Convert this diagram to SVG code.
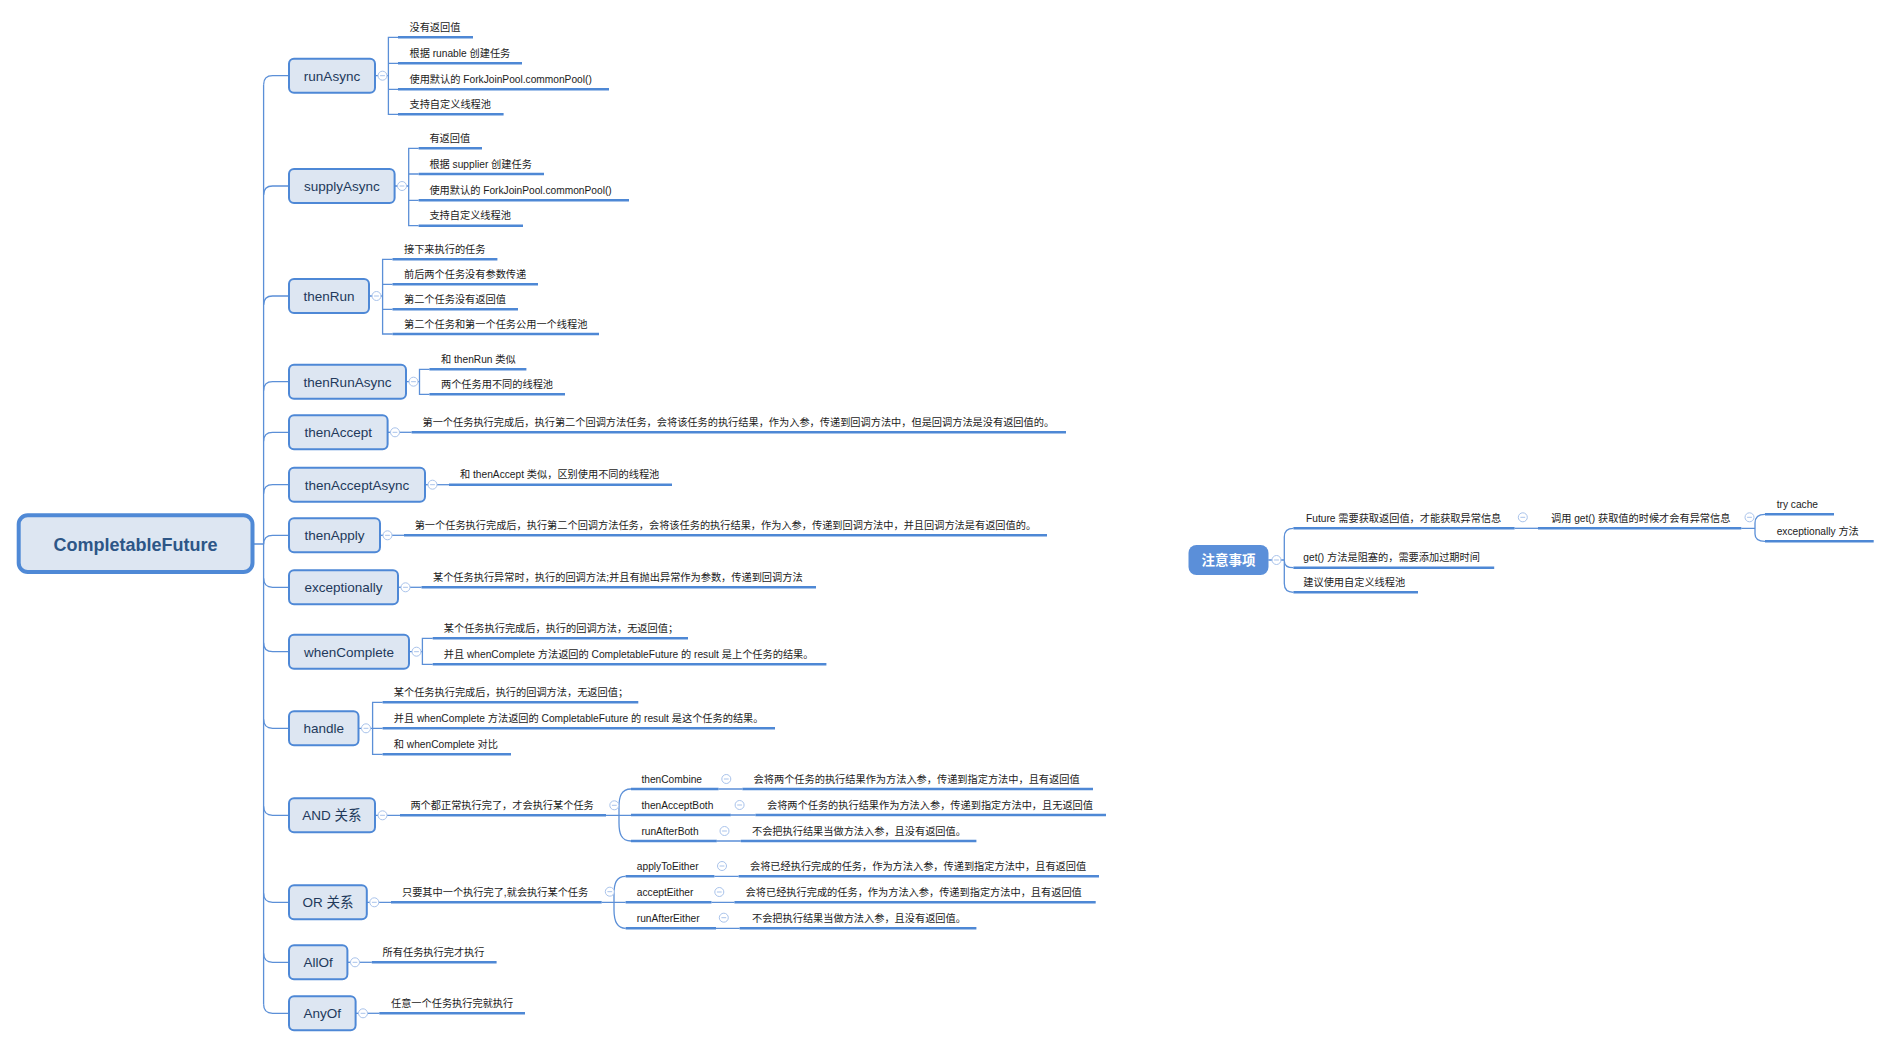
<svg xmlns="http://www.w3.org/2000/svg" width="1891" height="1047" viewBox="0 0 1891 1047">
<defs>
<style>
.ln{fill:none;stroke:#5b8fd7;stroke-width:1.3}
.ul{stroke:#4e88d5;stroke-width:2.6;fill:none}
.bx{fill:#dde6f2;stroke:#4e88d6;stroke-width:2}
.nt{font-family:"Liberation Sans","Noto Sans CJK SC",sans-serif;font-size:13.5px;fill:#22395b;text-anchor:middle}
.lt{font-family:"Liberation Sans","Noto Sans CJK SC",sans-serif;font-size:10.2px;fill:#1b1b1b}
</style>
<g id="col"><circle r="4.5" fill="#ffffff" stroke="#a9c3eb" stroke-width="1"/><line x1="-2.4" x2="2.4" y1="0" y2="0" stroke="#a9c3eb" stroke-width="1"/></g>
</defs>
<rect width="1891" height="1047" fill="#ffffff"/>

<g id="connectors" class="ln">
<path d="M254 544 H263.6 M263.6 84.7 V1004.3"/>
<path d="M263.6 84.7 Q263.6 75.7 272.6 75.7 H289"/>
<path d="M263.6 195 Q263.6 186 272.6 186 H289"/>
<path d="M263.6 305 Q263.6 296 272.6 296 H289"/>
<path d="M263.6 390.7 Q263.6 381.7 272.6 381.7 H289"/>
<path d="M263.6 441.3 Q263.6 432.3 272.6 432.3 H289"/>
<path d="M263.6 493.7 Q263.6 484.7 272.6 484.7 H289"/>
<path d="M263.6 544.3 Q263.6 535.3 272.6 535.3 H289"/>
<path d="M263.6 578.3 Q263.6 587.3 272.6 587.3 H289"/>
<path d="M263.6 642.7 Q263.6 651.7 272.6 651.7 H289"/>
<path d="M263.6 719.3 Q263.6 728.3 272.6 728.3 H289"/>
<path d="M263.6 806.3 Q263.6 815.3 272.6 815.3 H289"/>
<path d="M263.6 893.3 Q263.6 902.3 272.6 902.3 H289"/>
<path d="M263.6 953.3 Q263.6 962.3 272.6 962.3 H289"/>
<path d="M263.6 1004.3 Q263.6 1013.3 272.6 1013.3 H289"/>

<path d="M375 75.7 H388.4 M398 37.3 H388.4 V114.3 H398 M388.4 63.3 H398 M388.4 89.3 H398"/>
<path d="M394.6 186 H408.7 M418.6 148.3 H408.7 V225.7 H418.6 M408.7 174 H418.6 M408.7 200.3 H418.6"/>
<path d="M369 296 H382.6 M392.5 259.3 H382.6 V334 H392.5 M382.6 284.3 H392.5 M382.6 309.3 H392.5"/>
<path d="M406 381.7 H419.5 M429.4 369.3 H419.5 V394.3 H429.4"/>
<path d="M387.6 432.3 H411.6"/>
<path d="M425 484.7 H449"/>
<path d="M380 535.3 H404"/>
<path d="M398 587.3 H421.5"/>
<path d="M409 651.7 H422.4 M432.7 638.3 H422.4 V664.3 H432.7"/>
<path d="M358.5 728.3 H372.6 M382.6 702.3 H372.6 V754.3 H382.6 M372.6 728.3 H382.6"/>
<path d="M375 815.3 H400 M606 815.3 H631 M631 789 C621 789 619 797 619 807 V823 C619 833 621 841 631 841"/>
<path d="M718.6 789 H742.4 M730.8 815 H755.4 M716.8 841 H740.7"/>
<path d="M366.8 902.3 H391 M601.7 902.3 H625.6 M625.6 876.3 C616 876.3 614 884 614 894 V910 C614 920 616 928.3 625.6 928.3"/>
<path d="M714.4 876.3 H738.6 M711.5 902.3 H734.4 M716 928.3 H739.6"/>
<path d="M347.4 962.3 H371.8"/>
<path d="M355.6 1013.3 H379.3"/>
<path d="M1268.3 560 H1284.3 M1293.4 528.3 C1287 528.3 1284.3 531 1284.3 537 V583.6 C1284.3 589.6 1287 592.3 1293.4 592.3 M1284.3 561 C1284.3 565 1287 567.7 1293.4 567.7"/>
<path d="M1514.6 528.3 H1538"/>
<path d="M1741.3 528.3 H1755 M1765 514.3 C1758 514.3 1755 517 1755 523 V534 C1755 539 1758 541.3 1765 541.3"/>
</g>

<g id="root">
<rect x="18.7" y="515.3" width="233.8" height="56.7" rx="9" fill="#dde6f2" stroke="#4f89d6" stroke-width="4"/>
<text x="135.5" y="550.5" text-anchor="middle" font-family="'Liberation Sans','Noto Sans CJK SC',sans-serif" font-size="18" font-weight="bold" fill="#2d5687">CompletableFuture</text>
</g>

<g id="n-runAsync">
<rect class="bx" x="289" y="58.7" width="86" height="34" rx="5"/>
<text class="nt" x="332" y="80.7">runAsync</text>
<use href="#col" x="382.5" y="75.7"/>
<text class="lt" x="409.5" y="30.8">没有返回值</text><line class="ul" x1="398" y1="37.3" x2="473" y2="37.3"/>
<text class="lt" x="409.5" y="56.8">根据 runable 创建任务</text><line class="ul" x1="398" y1="63.3" x2="522" y2="63.3"/>
<text class="lt" x="409.5" y="82.8">使用默认的 ForkJoinPool.commonPool()</text><line class="ul" x1="398" y1="89.3" x2="609" y2="89.3"/>
<text class="lt" x="409.5" y="107.8">支持自定义线程池</text><line class="ul" x1="398" y1="114.3" x2="503.6" y2="114.3"/>
</g>

<g id="n-supplyAsync">
<rect class="bx" x="289" y="169" width="105.6" height="34" rx="5"/>
<text class="nt" x="341.8" y="191">supplyAsync</text>
<use href="#col" x="402" y="186"/>
<text class="lt" x="429.4" y="141.8">有返回值</text><line class="ul" x1="418.6" y1="148.3" x2="482" y2="148.3"/>
<text class="lt" x="429.4" y="167.5">根据 supplier 创建任务</text><line class="ul" x1="418.6" y1="174" x2="544" y2="174"/>
<text class="lt" x="429.4" y="193.8">使用默认的 ForkJoinPool.commonPool()</text><line class="ul" x1="418.6" y1="200.3" x2="629" y2="200.3"/>
<text class="lt" x="429.4" y="219.2">支持自定义线程池</text><line class="ul" x1="418.6" y1="225.7" x2="523" y2="225.7"/>
</g>

<g id="n-thenRun">
<rect class="bx" x="289" y="279" width="80" height="34" rx="5"/>
<text class="nt" x="329" y="301">thenRun</text>
<use href="#col" x="376.5" y="296"/>
<text class="lt" x="404" y="252.8">接下来执行的任务</text><line class="ul" x1="392.5" y1="259.3" x2="497.4" y2="259.3"/>
<text class="lt" x="404" y="277.8">前后两个任务没有参数传递</text><line class="ul" x1="392.5" y1="284.3" x2="538" y2="284.3"/>
<text class="lt" x="404" y="302.8">第二个任务没有返回值</text><line class="ul" x1="392.5" y1="309.3" x2="518" y2="309.3"/>
<text class="lt" x="404" y="327.5">第二个任务和第一个任务公用一个线程池</text><line class="ul" x1="392.5" y1="334" x2="599" y2="334"/>
</g>

<g id="n-thenRunAsync">
<rect class="bx" x="289" y="364.7" width="117" height="34" rx="5"/>
<text class="nt" x="347.5" y="386.7">thenRunAsync</text>
<use href="#col" x="413.5" y="381.7"/>
<text class="lt" x="441" y="362.8">和 thenRun 类似</text><line class="ul" x1="429.4" y1="369.3" x2="526.4" y2="369.3"/>
<text class="lt" x="441" y="387.8">两个任务用不同的线程池</text><line class="ul" x1="429.4" y1="394.3" x2="565" y2="394.3"/>
</g>

<g id="n-thenAccept">
<rect class="bx" x="289" y="415.3" width="98.6" height="34" rx="5"/>
<text class="nt" x="338.3" y="437.3">thenAccept</text>
<use href="#col" x="395" y="432.3"/>
<text class="lt" x="422.5" y="425.8">第一个任务执行完成后，执行第二个回调方法任务，会将该任务的执行结果，作为入参，传递到回调方法中，但是回调方法是没有返回值的。</text><line class="ul" x1="411.6" y1="432.3" x2="1066" y2="432.3"/>
</g>

<g id="n-thenAcceptAsync">
<rect class="bx" x="289" y="467.7" width="136" height="34" rx="5"/>
<text class="nt" x="357" y="489.7">thenAcceptAsync</text>
<use href="#col" x="432.5" y="484.7"/>
<text class="lt" x="460" y="478.2">和 thenAccept 类似，区别使用不同的线程池</text><line class="ul" x1="449" y1="484.7" x2="672" y2="484.7"/>
</g>

<g id="n-thenApply">
<rect class="bx" x="289" y="518.3" width="91" height="34" rx="5"/>
<text class="nt" x="334.5" y="540.3">thenApply</text>
<use href="#col" x="387.5" y="535.3"/>
<text class="lt" x="414.7" y="528.8">第一个任务执行完成后，执行第二个回调方法任务，会将该任务的执行结果，作为入参，传递到回调方法中，并且回调方法是有返回值的。</text><line class="ul" x1="404" y1="535.3" x2="1047" y2="535.3"/>
</g>

<g id="n-exceptionally">
<rect class="bx" x="289" y="570.3" width="109" height="34" rx="5"/>
<text class="nt" x="343.5" y="592.3">exceptionally</text>
<use href="#col" x="405.5" y="587.3"/>
<text class="lt" x="433" y="580.8">某个任务执行异常时，执行的回调方法;并且有抛出异常作为参数，传递到回调方法</text><line class="ul" x1="421.5" y1="587.3" x2="816" y2="587.3"/>
</g>

<g id="n-whenComplete">
<rect class="bx" x="289" y="634.7" width="120" height="34" rx="5"/>
<text class="nt" x="349" y="656.7">whenComplete</text>
<use href="#col" x="416.5" y="651.7"/>
<text class="lt" x="443.8" y="631.8">某个任务执行完成后，执行的回调方法，无返回值；</text><line class="ul" x1="432.7" y1="638.3" x2="688" y2="638.3"/>
<text class="lt" x="443.8" y="657.8">并且 whenComplete 方法返回的 CompletableFuture 的 result 是上个任务的结果。</text><line class="ul" x1="432.7" y1="664.3" x2="826.4" y2="664.3"/>
</g>

<g id="n-handle">
<rect class="bx" x="289" y="711.3" width="69.5" height="34" rx="5"/>
<text class="nt" x="323.8" y="733.3">handle</text>
<use href="#col" x="366" y="728.3"/>
<text class="lt" x="393.8" y="695.8">某个任务执行完成后，执行的回调方法，无返回值；</text><line class="ul" x1="382.6" y1="702.3" x2="638.3" y2="702.3"/>
<text class="lt" x="393.8" y="721.8">并且 whenComplete 方法返回的 CompletableFuture 的 result 是这个任务的结果。</text><line class="ul" x1="382.6" y1="728.3" x2="775" y2="728.3"/>
<text class="lt" x="393.8" y="747.8">和 whenComplete 对比</text><line class="ul" x1="382.6" y1="754.3" x2="511" y2="754.3"/>
</g>

<g id="n-and">
<rect class="bx" x="289" y="798.3" width="86" height="34" rx="5"/>
<text class="nt" x="332" y="820.3">AND 关系</text>
<use href="#col" x="382.5" y="815.3"/>
<text class="lt" x="410.4" y="808.8">两个都正常执行完了，才会执行某个任务</text><line class="ul" x1="400" y1="815.3" x2="606" y2="815.3"/>
<use href="#col" x="614.3" y="805.3"/>
<text class="lt" x="641.4" y="782.5">thenCombine</text><line class="ul" x1="631" y1="789" x2="718.6" y2="789"/>
<use href="#col" x="726.3" y="779"/>
<text class="lt" x="753.6" y="782.5">会将两个任务的执行结果作为方法入参，传递到指定方法中，且有返回值</text><line class="ul" x1="742.4" y1="789" x2="1093" y2="789"/>
<text class="lt" x="641.4" y="808.5">thenAcceptBoth</text><line class="ul" x1="631" y1="815" x2="730.8" y2="815"/>
<use href="#col" x="739.6" y="805"/>
<text class="lt" x="767" y="808.5">会将两个任务的执行结果作为方法入参，传递到指定方法中，且无返回值</text><line class="ul" x1="755.4" y1="815" x2="1106" y2="815"/>
<text class="lt" x="641.4" y="834.5">runAfterBoth</text><line class="ul" x1="631" y1="841" x2="716.8" y2="841"/>
<use href="#col" x="724.5" y="831"/>
<text class="lt" x="752" y="834.5">不会把执行结果当做方法入参，且没有返回值。</text><line class="ul" x1="740.7" y1="841" x2="976.4" y2="841"/>
</g>

<g id="n-or">
<rect class="bx" x="289" y="885.3" width="77.8" height="34" rx="5"/>
<text class="nt" x="327.9" y="907.3">OR 关系</text>
<use href="#col" x="374.3" y="902.3"/>
<text class="lt" x="402" y="895.8">只要其中一个执行完了,就会执行某个任务</text><line class="ul" x1="391" y1="902.3" x2="601.7" y2="902.3"/>
<use href="#col" x="609.8" y="891.7"/>
<text class="lt" x="636.8" y="869.8">applyToEither</text><line class="ul" x1="625.6" y1="876.3" x2="714.4" y2="876.3"/>
<use href="#col" x="722" y="866"/>
<text class="lt" x="750" y="869.8">会将已经执行完成的任务，作为方法入参，传递到指定方法中，且有返回值</text><line class="ul" x1="738.6" y1="876.3" x2="1099" y2="876.3"/>
<text class="lt" x="636.8" y="895.8">acceptEither</text><line class="ul" x1="625.6" y1="902.3" x2="711.5" y2="902.3"/>
<use href="#col" x="719.3" y="892"/>
<text class="lt" x="745.6" y="895.8">会将已经执行完成的任务，作为方法入参，传递到指定方法中，且有返回值</text><line class="ul" x1="734.4" y1="902.3" x2="1095.7" y2="902.3"/>
<text class="lt" x="636.8" y="921.8">runAfterEither</text><line class="ul" x1="625.6" y1="928.3" x2="716" y2="928.3"/>
<use href="#col" x="723.8" y="917.7"/>
<text class="lt" x="752" y="921.8">不会把执行结果当做方法入参，且没有返回值。</text><line class="ul" x1="739.6" y1="928.3" x2="976.4" y2="928.3"/>
</g>

<g id="n-allof">
<rect class="bx" x="289" y="945.3" width="58.4" height="34" rx="5"/>
<text class="nt" x="318.2" y="967.3">AllOf</text>
<use href="#col" x="355" y="962.3"/>
<text class="lt" x="382.6" y="955.8">所有任务执行完才执行</text><line class="ul" x1="371.8" y1="962.3" x2="496.6" y2="962.3"/>
</g>

<g id="n-anyof">
<rect class="bx" x="289" y="996.3" width="66.6" height="34" rx="5"/>
<text class="nt" x="322.3" y="1018.3">AnyOf</text>
<use href="#col" x="363" y="1013.3"/>
<text class="lt" x="391" y="1006.8">任意一个任务执行完就执行</text><line class="ul" x1="379.3" y1="1013.3" x2="525" y2="1013.3"/>
</g>

<g id="n-notes">
<rect x="1188.5" y="545" width="80" height="30" rx="8" fill="#5b8fd9"/>
<text x="1228.5" y="564.8" text-anchor="middle" font-family="'Liberation Sans','Noto Sans CJK SC',sans-serif" font-size="13.5" font-weight="bold" fill="#ffffff">注意事项</text>
<use href="#col" x="1276.5" y="560"/>
<text class="lt" x="1306" y="521.8">Future 需要获取返回值，才能获取异常信息</text><line class="ul" x1="1293.4" y1="528.3" x2="1514.6" y2="528.3"/>
<use href="#col" x="1522.8" y="517.3"/>
<text class="lt" x="1551" y="521.8">调用 get() 获取值的时候才会有异常信息</text><line class="ul" x1="1538" y1="528.3" x2="1741.3" y2="528.3"/>
<use href="#col" x="1749.5" y="517.3"/>
<text class="lt" x="1776.7" y="507.8">try cache</text><line class="ul" x1="1765" y1="514.3" x2="1834" y2="514.3"/>
<text class="lt" x="1776.7" y="534.8">exceptionally 方法</text><line class="ul" x1="1765" y1="541.3" x2="1873.7" y2="541.3"/>
<text class="lt" x="1303.3" y="561.2">get() 方法是阻塞的，需要添加过期时间</text><line class="ul" x1="1293.4" y1="567.7" x2="1494.2" y2="567.7"/>
<text class="lt" x="1303.3" y="585.8">建议使用自定义线程池</text><line class="ul" x1="1293.4" y1="592.3" x2="1418" y2="592.3"/>
</g>
</svg>
